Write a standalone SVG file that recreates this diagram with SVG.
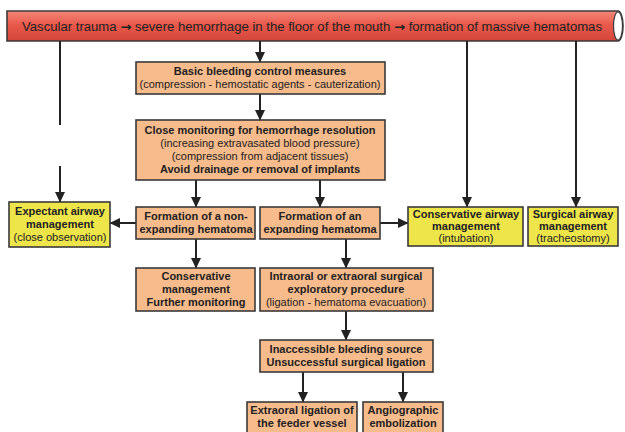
<svg xmlns="http://www.w3.org/2000/svg" width="625" height="432" viewBox="0 0 625 432">
<defs>
<linearGradient id="red" x1="0" y1="0" x2="0" y2="1">
<stop offset="0" stop-color="#f3877a"/>
<stop offset="0.45" stop-color="#e9594b"/>
<stop offset="1" stop-color="#d2463a"/>
</linearGradient>
<marker id="ah" markerWidth="11" markerHeight="11" refX="10" refY="5.5" orient="auto" markerUnits="userSpaceOnUse">
<path d="M0,0.5 L10.5,5.5 L0,10.5 Z" fill="#222"/>
</marker>
<style>
.o{fill:#f7bb8c;stroke:#3a3a3a;stroke-width:1.6}
.y{fill:#eee54a;stroke:#3a3a3a;stroke-width:1.6}
text{font-family:"Liberation Sans",Arial,sans-serif;font-size:11px;fill:#222;text-anchor:middle}
.b{font-weight:bold}
.ar{font-family:"DejaVu Sans",sans-serif;font-weight:bold}
.c{stroke:#222;stroke-width:2;fill:none}
.a{marker-end:url(#ah)}
</style>
</defs>
<rect width="625" height="432" fill="#fff"/>
<g id="banner">
<path d="M7,11 H618 A5,15 0 0 1 618,41 H7 Z" fill="url(#red)" stroke="#3a3a3a" stroke-width="1.6"/>
<ellipse cx="618" cy="26" rx="4.5" ry="14" fill="#fff" stroke="#3a3a3a" stroke-width="1.2"/>
<text x="312" y="30.5" style="font-size:12px" textLength="580" lengthAdjust="spacingAndGlyphs">Vascular trauma <tspan class="ar">→</tspan> severe hemorrhage in the floor of the mouth <tspan class="ar">→</tspan> formation of massive hematomas</text>
</g>
<g id="connectors">
<path class="c" d="M60,41 V125"/>
<path class="c a" d="M60,166 V202"/>
<path class="c a" d="M260,41 V62"/>
<path class="c a" d="M467,41 V207"/>
<path class="c a" d="M576,41 V207"/>
<path class="c a" d="M260,94 V120"/>
<path class="c a" d="M196,180 V207"/>
<path class="c a" d="M320,180 V207"/>
<path class="c a" d="M136,223 H110"/>
<path class="c a" d="M380,223 H408"/>
<path class="c a" d="M196,239 V268"/>
<path class="c a" d="M346,239 V268"/>
<path class="c a" d="M346,311 V340"/>
<path class="c a" d="M303,372 V402"/>
<path class="c a" d="M403,372 V402"/>
</g>
<g id="basic">
<rect class="o" x="136" y="62" width="249" height="32"/>
<text class="b" x="260" y="75">Basic bleeding control measures</text>
<text x="260" y="88">(compression - hemostatic agents - cauterization)</text>
</g>
<g id="monitoring">
<rect class="o" x="136" y="120" width="249" height="60"/>
<text class="b" x="260" y="134">Close monitoring for hemorrhage resolution</text>
<text x="260" y="147">(increasing extravasated blood pressure)</text>
<text x="260" y="160">(compression from adjacent tissues)</text>
<text class="b" x="260" y="173">Avoid drainage or removal of implants</text>
</g>
<g id="expectant">
<rect class="y" x="9" y="202" width="101" height="45"/>
<text class="b" x="60" y="215">Expectant airway</text>
<text class="b" x="60" y="228">management</text>
<text x="60" y="241">(close observation)</text>
</g>
<g id="nonexpanding">
<rect class="o" x="136" y="207" width="119" height="32"/>
<text class="b" x="196" y="220">Formation of a non-</text>
<text class="b" x="196" y="233">expanding hematoma</text>
</g>
<g id="expanding">
<rect class="o" x="260" y="207" width="120" height="32"/>
<text class="b" x="320" y="220">Formation of an</text>
<text class="b" x="320" y="233">expanding hematoma</text>
</g>
<g id="conservativeairway">
<rect class="y" x="408" y="207" width="115" height="39"/>
<text class="b" x="466" y="218">Conservative airway</text>
<text class="b" x="466" y="230">management</text>
<text x="466" y="242">(intubation)</text>
</g>
<g id="surgicalairway">
<rect class="y" x="528" y="207" width="90" height="39"/>
<text class="b" x="573" y="218">Surgical airway</text>
<text class="b" x="573" y="230">management</text>
<text x="573" y="242">(tracheostomy)</text>
</g>
<g id="conservative">
<rect class="o" x="136" y="268" width="119" height="43"/>
<text class="b" x="196" y="280">Conservative</text>
<text class="b" x="196" y="293">management</text>
<text class="b" x="196" y="306">Further monitoring</text>
</g>
<g id="intraoral">
<rect class="o" x="260" y="268" width="173" height="43"/>
<text class="b" x="346" y="280">Intraoral or extraoral surgical</text>
<text class="b" x="346" y="293">exploratory procedure</text>
<text x="346" y="306">(ligation - hematoma evacuation)</text>
</g>
<g id="inaccessible">
<rect class="o" x="260" y="340" width="173" height="32"/>
<text class="b" x="346" y="353">Inaccessible bleeding source</text>
<text class="b" x="346" y="366">Unsuccessful surgical ligation</text>
</g>
<g id="extraoral">
<rect class="o" x="247" y="402" width="110" height="38"/>
<text class="b" x="302" y="414">Extraoral ligation of</text>
<text class="b" x="302" y="427">the feeder vessel</text>
</g>
<g id="angio">
<rect class="o" x="363" y="402" width="80" height="38"/>
<text class="b" x="403" y="414">Angiographic</text>
<text class="b" x="403" y="427">embolization</text>
</g>
</svg>
